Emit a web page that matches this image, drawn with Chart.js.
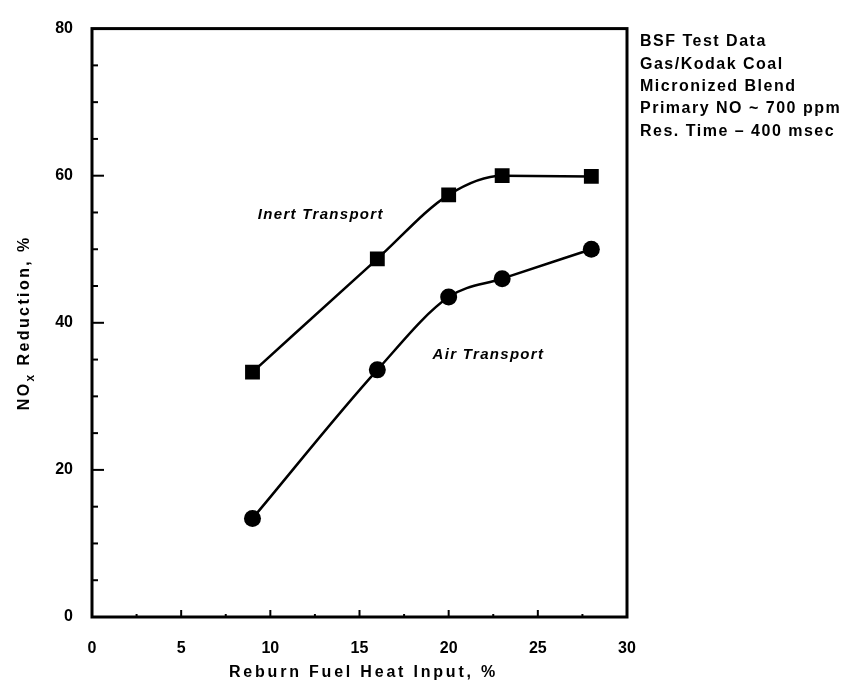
<!DOCTYPE html>
<html>
<head>
<meta charset="utf-8">
<script src="https://cdn.jsdelivr.net/npm/chart.js@4.4.1/dist/chart.umd.min.js"></script>
<style>
  html, body { margin: 0; padding: 0; background: #fff; }
</style>
</head>
<body>
<canvas id="chart" width="847" height="688"></canvas>
<script>
// values
const heatInput = [9, 16, 20, 23, 28]
const inertTransport = [33.3, 48.7, 57.4, 60.0, 59.9]
const airTransport = [13.4, 33.6, 43.5, 46.0, 50.0]
const notes = ['BSF Test Data', 'Gas/Kodak Coal', 'Micronized Blend', 'Primary NO ~ 700 ppm', 'Res. Time \u2013 400 msec']

const FONT = '"Liberation Sans", Arial, sans-serif'

const toPoints = (ys) => heatInput.map((x, i) => ({ x: x, y: ys[i] }))

// frame, inward ticks, titles and notes drawn over the chart
const paperPlugin = {
  id: 'paper',
  afterDraw(chart) {
    const ctx = chart.ctx
    const area = chart.chartArea
    const xs = chart.scales.x
    const ys = chart.scales.y
    ctx.save()
    ctx.strokeStyle = '#000'
    ctx.fillStyle = '#000'

    // box
    ctx.lineWidth = 3
    ctx.strokeRect(area.left, area.top, area.right - area.left, area.bottom - area.top)

    // y ticks, pointing inside
    ctx.lineWidth = 2
    for (let v = 5; v < 80; v += 5) {
      const y = ys.getPixelForValue(v)
      const len = v % 20 === 0 ? 12 : 6
      ctx.beginPath()
      ctx.moveTo(area.left, y)
      ctx.lineTo(area.left + len, y)
      ctx.stroke()
    }
    // x ticks
    for (let v = 2.5; v < 30; v += 2.5) {
      const x = xs.getPixelForValue(v)
      const len = v % 5 === 0 ? 7 : 3
      ctx.beginPath()
      ctx.moveTo(x, area.bottom)
      ctx.lineTo(x, area.bottom - len)
      ctx.stroke()
    }

    // x title
    ctx.font = 'bold 16px ' + FONT
    ctx.letterSpacing = '2.8px'
    ctx.textAlign = 'center'
    ctx.textBaseline = 'middle'
    ctx.fillText('Reburn Fuel Heat Input, %', (area.left + area.right) / 2 + 4, 673)

    // y title with subscript x
    ctx.letterSpacing = '2.4px'
    ctx.save()
    ctx.translate(25, (area.top + area.bottom) / 2)
    ctx.rotate(-Math.PI / 2)
    ctx.textAlign = 'left'
    ctx.textBaseline = 'middle'
    const big = 'bold 16px ' + FONT
    const small = 'bold 12px ' + FONT
    ctx.font = big
    const w1 = ctx.measureText('NO').width
    const w3 = ctx.measureText(' Reduction, %').width
    ctx.font = small
    const w2 = ctx.measureText('x').width
    let px = -(w1 + w2 + w3) / 2
    ctx.font = big
    ctx.fillText('NO', px, 0)
    px += w1
    ctx.font = small
    ctx.fillText('x', px, 6)
    px += w2
    ctx.font = big
    ctx.fillText(' Reduction, %', px, 0)
    ctx.restore()

    // curve labels
    ctx.font = 'italic bold 15px ' + FONT
    ctx.letterSpacing = '1.3px'
    ctx.textAlign = 'left'
    ctx.fillText('Inert Transport', xs.getPixelForValue(9.3), ys.getPixelForValue(54.7))
    ctx.fillText('Air Transport', xs.getPixelForValue(19.1), ys.getPixelForValue(35.7))

    // test notes
    ctx.font = 'bold 16px ' + FONT
    ctx.letterSpacing = '1.5px'
    ctx.textBaseline = 'middle'
    notes.forEach((line, i) => {
      ctx.fillText(line, area.right + 13, 42 + i * 22.3)
    })
    ctx.restore()
  }
}

new Chart(document.getElementById('chart'), {
  type: 'line',
  data: {
    datasets: [
      {
        label: 'Inert Transport',
        data: toPoints(inertTransport),
        borderColor: '#000',
        borderWidth: 2.5,
        pointStyle: 'rect',
        pointRadius: 10.5,
        pointBackgroundColor: '#000',
        pointBorderWidth: 0,
        cubicInterpolationMode: 'monotone'
      },
      {
        label: 'Air Transport',
        data: toPoints(airTransport),
        borderColor: '#000',
        borderWidth: 2.5,
        pointStyle: 'circle',
        pointRadius: 8.5,
        pointBackgroundColor: '#000',
        pointBorderWidth: 0,
        cubicInterpolationMode: 'monotone'
      }
    ]
  },
  options: {
    responsive: false,
    animation: false,
    layout: { padding: { top: 25, right: 220, left: 0, bottom: 0 } },
    plugins: {
      legend: { display: false },
      tooltip: { enabled: false }
    },
    scales: {
      x: {
        type: 'linear',
        min: 0,
        max: 30,
        grid: { display: false, drawTicks: false },
        border: { display: false },
        ticks: {
          stepSize: 5,
          color: '#000',
          padding: 22,
          font: { family: FONT, size: 16, weight: 'bold' }
        },
        afterFit: (s) => { s.height = 71 }
      },
      y: {
        min: 0,
        max: 80,
        grid: { display: false, drawTicks: false },
        border: { display: false },
        ticks: {
          stepSize: 20,
          color: '#000',
          padding: 19,
          font: { family: FONT, size: 16, weight: 'bold' }
        },
        afterFit: (s) => { s.width = 92 }
      }
    }
  },
  plugins: [paperPlugin]
})
</script>
</body>
</html>
